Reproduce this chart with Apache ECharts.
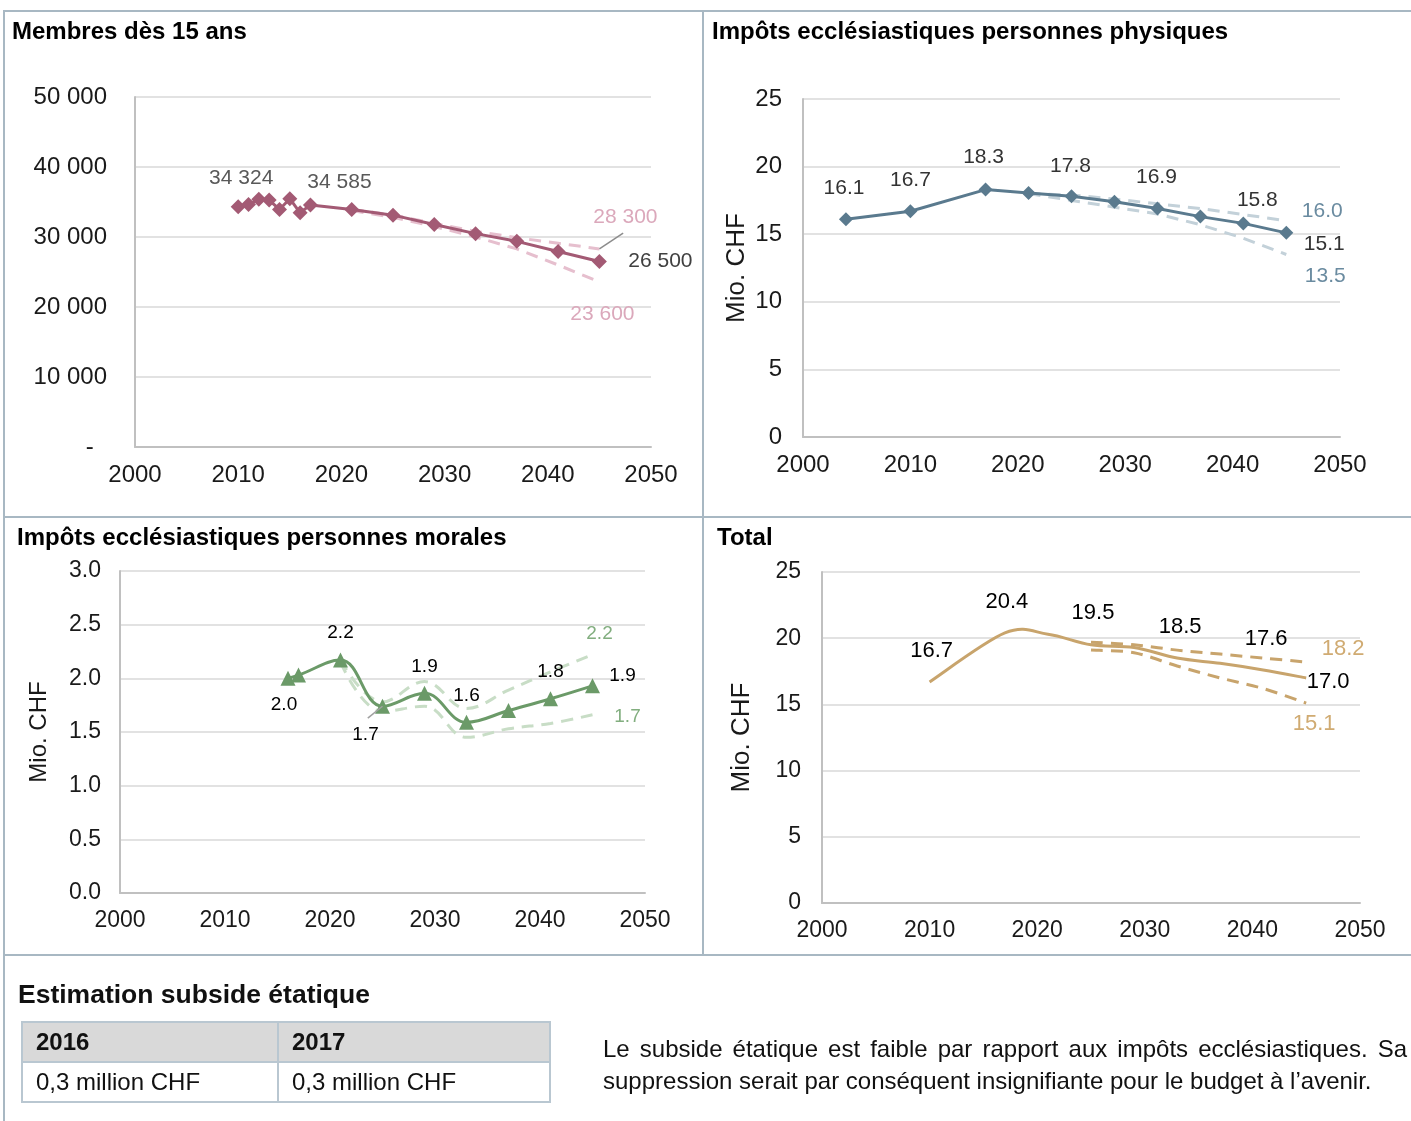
<!DOCTYPE html>
<html><head><meta charset="utf-8">
<script src="https://cdn.jsdelivr.net/npm/echarts@6/dist/echarts.min.js"></script>
<style>
body{margin:0;background:#fff;font-family:"Liberation Sans",Arial,sans-serif;color:#111;}
#wrap{position:relative;width:1411px;height:1121px;overflow:hidden;background:#fff;}
#chart{position:absolute;left:0;top:0;width:1411px;height:1121px;}
.b{position:absolute;background:#a8b8c3;}
#sub{position:absolute;left:18px;top:978px;font-size:26.5px;font-weight:bold;line-height:32px;}
table{position:absolute;left:21px;top:1021px;width:530px;border-collapse:collapse;font-size:24px;}
td{border:2px solid #b9c7d1;height:38px;padding:0 0 0 13px;}
tr.h td{background:#d9d9d9;font-weight:bold;}
#p1,#p2{position:absolute;left:603px;width:804px;font-size:24px;line-height:32px;white-space:nowrap;}
#p1{top:1033px;text-align:justify;text-align-last:justify;}
#p2{top:1065px;}
</style></head>
<body><div id="wrap">
<div id="chart"></div>
<div class="b" style="left:3px;top:10px;width:1408px;height:2px"></div>
<div class="b" style="left:3px;top:10px;width:2px;height:1111px"></div>
<div class="b" style="left:702px;top:10px;width:2px;height:945px"></div>
<div class="b" style="left:3px;top:516px;width:1408px;height:2px"></div>
<div class="b" style="left:3px;top:954px;width:1408px;height:2px"></div>
<div id="sub">Estimation subside étatique</div>
<table>
<tr class="h"><td style="width:241px">2016</td><td>2017</td></tr>
<tr><td>0,3 million CHF</td><td>0,3 million CHF</td></tr>
</table>
<div id="p1">Le subside étatique est faible par rapport aux impôts ecclésiastiques. Sa</div>
<div id="p2">suppression serait par conséquent insignifiante pour le budget à l’avenir.</div>
</div>
<script>
// ---------- DATA ----------
const titles = ['Membres dès 15 ans','Impôts ecclésiastiques personnes physiques','Impôts ecclésiastiques personnes morales','Total'];
const xTicks = [2000, 2010, 2020, 2030, 2040, 2050];

// Membres dès 15 ans
const membresYears = [2010,2011,2012,2013,2014,2015,2016,2017,2021,2025,2029,2033,2037,2041,2045];
const membres      = [34324,34660,35380,35280,33940,35470,33460,34585,33940,33120,31780,30480,29380,27940,26500];
const membresProjYears = [2021,2025,2029,2033,2037,2041,2045];
const membresHaut  = [33940,33150,31950,30800,29900,29100,28300];
const membresBas   = [33800,32800,31500,30000,28300,26000,23600];

// Impôts personnes physiques (Mio. CHF)
const physYears = [2004,2010,2017,2021,2025,2029,2033,2037,2041,2045];
const phys      = [16.1,16.7,18.3,18.05,17.8,17.4,16.9,16.3,15.8,15.1];
const physProjYears = [2021,2025,2029,2033,2037,2041,2045];
const physHaut  = [18.0,17.9,17.6,17.25,16.9,16.45,16.0];
const physBas   = [18.0,17.5,17.0,16.5,15.7,14.7,13.5];

// Impôts personnes morales (Mio. CHF)
const morYears = [2016,2017,2021,2025,2029,2033,2037,2041,2045];
const mor      = [2.0,2.03,2.17,1.74,1.86,1.59,1.70,1.81,1.93];
const morProjYears = [2021,2025,2029,2033,2037,2041,2045];
const morHaut  = [2.17,1.78,1.97,1.72,1.89,2.06,2.22];
const morBas   = [2.15,1.69,1.74,1.45,1.53,1.58,1.66];

// Total (Mio. CHF)
const totYears = [2010,2017,2021,2025,2029,2033,2037,2041,2045];
const tot      = [16.7,20.4,20.3,19.5,19.3,18.5,18.1,17.6,17.0];
const totProjYears = [2025,2029,2033,2037,2041,2045];
const totHaut  = [19.7,19.5,19.1,18.8,18.5,18.2];
const totBas   = [19.1,18.9,17.9,17.0,16.2,15.1];

// ---------- STYLE ----------
const FONT = '"Liberation Sans", Arial, sans-serif';
const C1 = '#a35a74', C1d = '#e6bfce', C1l = '#dba8bb';
const C2 = '#5a7a8e', C2d = '#c3d1d9', C2l = '#6a8ba0';
const C3 = '#6b9a68', C3d = '#c8ddc6', C3l = '#82ae7f';
const C4 = '#c8a46c', C4l = '#d0ab72';
const CLEAR = 'rgba(0,0,0,0)';

// label offsets (pixel displacement from point), keyed by year
const lab1 = {2010:[3,-29], 2017:[29,-23], 2045:[61,0]};
const lab2 = {2004:[-2,-31], 2010:[0,-31], 2017:[-2,-32], 2025:[-1,-30], 2033:[-1,-31], 2041:[14,-23], 2045:[38,11]};
const lab3 = {2016:[-4,26], 2021:[0,-27], 2025:[-17,29], 2029:[0,-27], 2033:[0,-27], 2041:[0,-27], 2045:[30,-10]};
const lab4 = {2010:[2,-31], 2017:[2,-31], 2025:[2,-32], 2033:[3,-31], 2041:[3,-31], 2045:[22,4]};

function thousands(v){ const s = Math.round(v).toString(); return s.length>3 ? s.slice(0,-3)+' '+s.slice(-3) : s; }
function pairs(xs, ys){ return xs.map((x,i)=>[x, ys[i]]); }
function build(xs, ys, offs, style){
  return xs.map((x,i)=>{
    const it = {value:[x, ys[i]]};
    if (offs && offs[x]) it.label = Object.assign({show:true, position:'inside', offset:offs[x]}, style);
    return it;
  });
}
function endOnly(xs, ys, off, style){
  const o = {}; o[xs[xs.length-1]] = off;
  return build(xs, ys, o, style);
}
function xAxis(g, fs){
  return {gridIndex:g, type:'value', min:2000, max:2050, interval:10,
    axisLine:{show:true, onZero:false, lineStyle:{color:'#c0c0c0', width:2}},
    axisTick:{show:false}, splitLine:{show:false},
    axisLabel:{fontSize:fs, color:'#1a1a1a', fontFamily:FONT, margin:16, formatter:v=>String(v)}};
}
function yAxis(g, min, max, iv, extra){
  return Object.assign({gridIndex:g, type:'value', min:min, max:max, interval:iv,
    axisLine:{show:true, lineStyle:{color:'#c0c0c0', width:2}},
    axisTick:{show:false},
    splitLine:{show:true, lineStyle:{color:'#d9d9d9', width:1.5}},
    nameTextStyle:{fontSize:26, color:'#1a1a1a', fontFamily:FONT}}, extra||{});
}
const dash = (c)=>({color:c, width:3, type:[12,8]});
const ylab = (fs, margin, fmt)=>({fontSize:fs, color:'#1a1a1a', fontFamily:FONT, margin:margin, formatter:fmt});

const lblGray1 = {color:'#595959', fontSize:21, fontFamily:FONT, formatter:p=>thousands(p.value[1])};
const lblNum = (c, fs)=>({color:c, fontSize:fs, fontFamily:FONT, formatter:p=>p.value[1].toFixed(1)});

const mainData1 = build(membresYears, membres, lab1, lblGray1);
mainData1[mainData1.length-1].label.color = '#404040';

const hidden = ()=>({symbol:'circle', symbolSize:1, showSymbol:true, itemStyle:{color:CLEAR, borderColor:CLEAR}});

// Office-style smoothed curve (cardinal spline, tension 1/6) drawn through the axis scales
function smoothCurve(xs, ys, gi, stroke, dashArr, z){
  return {type:'custom', xAxisIndex:gi, yAxisIndex:gi, z:z, silent:true,
    data:pairs(xs, ys),
    renderItem:(params, api)=>{
      if (params.dataIndex !== 0) return null;
      const n = xs.length;
      const P = k=>{ const j = Math.max(0, Math.min(n-1, k)); return api.coord([xs[j], ys[j]]); };
      let d = 'M' + P(0)[0] + ' ' + P(0)[1];
      for (let i=0;i<n-1;i++){
        const p0=P(i-1), p1=P(i), p2=P(i+1), p3=P(i+2);
        const c1=[p1[0]+(p2[0]-p0[0])/6, p1[1]+(p2[1]-p0[1])/6];
        const c2=[p2[0]-(p3[0]-p1[0])/6, p2[1]-(p3[1]-p1[1])/6];
        d += ' C'+c1[0]+' '+c1[1]+' '+c2[0]+' '+c2[1]+' '+p2[0]+' '+p2[1];
      }
      return {type:'path', shape:{pathData:d},
        style:{stroke:stroke, lineWidth:3, fill:null, lineDash:dashArr||null, lineCap:'butt', lineJoin:'round'}};
    }};
}

const option = {
  animation:false,
  title: [
    {text:titles[0], left:7, top:15},
    {text:titles[1], left:707, top:15},
    {text:titles[2], left:12, top:521},
    {text:titles[3], left:712, top:521}
  ].map(t=>Object.assign(t,{textStyle:{fontSize:24, fontWeight:'bold', color:'#000', fontFamily:FONT}})),
  grid: [
    {left:135, top:97, width:516, height:350},
    {left:803, top:99, width:537, height:338},
    {left:120, top:571, width:525, height:322},
    {left:822, top:572, width:538, height:331}
  ],
  xAxis: [xAxis(0,24), xAxis(1,24), xAxis(2,23), xAxis(3,23)],
  yAxis: [
    yAxis(0, 0, 50000, 10000, {axisLabel:ylab(24, 28, v=> v===0 ? '-  ' : thousands(v))}),
    yAxis(1, 0, 25, 5, {name:'Mio. CHF', nameLocation:'middle', nameGap:53, axisLabel:ylab(24, 21)}),
    yAxis(2, 0, 3, 0.5, {name:'Mio. CHF', nameLocation:'middle', nameGap:69,
      nameTextStyle:{fontSize:24, color:'#1a1a1a', fontFamily:FONT}, axisLabel:ylab(23, 19, v=>v.toFixed(1))}),
    yAxis(3, 0, 25, 5, {name:'Mio. CHF', nameLocation:'middle', nameGap:67, axisLabel:ylab(23, 21)})
  ],
  series: [
    // Chart 1
    Object.assign({type:'line', xAxisIndex:0, yAxisIndex:0, lineStyle:dash(C1d), z:1,
      data:endOnly(membresProjYears, membresHaut, [26,-32], {color:C1l, fontSize:21, fontFamily:FONT, formatter:p=>thousands(p.value[1])}),
      markLine:{silent:true, symbol:'none', label:{show:false}, lineStyle:{color:'#8c8c8c', width:1.5, type:'solid'},
        data:[[{coord:[membresProjYears[6], membresHaut[6]]},{coord:[membresProjYears[6]+2.3, membresHaut[6]+2270]}]]}}, hidden()),
    Object.assign({type:'line', xAxisIndex:0, yAxisIndex:0, lineStyle:dash(C1d), z:1,
      data:endOnly(membresProjYears, membresBas, [3,32], {color:C1l, fontSize:21, fontFamily:FONT, formatter:p=>thousands(p.value[1])})}, hidden()),
    {type:'line', xAxisIndex:0, yAxisIndex:0, symbol:'diamond', symbolSize:15, z:3,
      lineStyle:{color:C1, width:3}, itemStyle:{color:C1}, data:mainData1},
    // Chart 2
    Object.assign({type:'line', xAxisIndex:1, yAxisIndex:1, lineStyle:dash(C2d), z:1,
      data:endOnly(physProjYears, physHaut, [36,-9], lblNum(C2l, 21))}, hidden()),
    Object.assign({type:'line', xAxisIndex:1, yAxisIndex:1, lineStyle:dash(C2d), z:1,
      data:endOnly(physProjYears, physBas, [39,22], lblNum(C2l, 21))}, hidden()),
    {type:'line', xAxisIndex:1, yAxisIndex:1, symbol:'diamond', symbolSize:14, z:3,
      lineStyle:{color:C2, width:3}, itemStyle:{color:C2}, data:build(physYears, phys, lab2, lblNum('#333333', 21))},
    // Chart 3
    Object.assign({type:'line', xAxisIndex:2, yAxisIndex:2, smooth:0.4, lineStyle:dash(C3d), z:1,
      data:endOnly(morProjYears, morHaut, [7,-21], lblNum(C3l, 19))}, hidden()),
    Object.assign({type:'line', xAxisIndex:2, yAxisIndex:2, smooth:0.4, lineStyle:dash(C3d), z:1,
      data:endOnly(morProjYears, morBas, [35,2], lblNum(C3l, 19))}, hidden()),
    {type:'line', xAxisIndex:2, yAxisIndex:2, smooth:0.4, symbol:'triangle', symbolSize:15, z:3,
      lineStyle:{color:C3, width:3}, itemStyle:{color:C3}, data:build(morYears, mor, lab3, lblNum('#000', 19)),
      markLine:{silent:true, symbol:'none', label:{show:false}, lineStyle:{color:'#a0a0a0', width:1.5, type:'solid'},
        data:[[{coord:[morYears[3], mor[3]]},{coord:[morYears[3]-1.4, mor[3]-0.11]}]]}},
    // Chart 4 : curves
    smoothCurve(totProjYears, totHaut, 3, C4, [12,8], 1),
    smoothCurve(totProjYears, totBas, 3, C4, [12,8], 1),
    smoothCurve(totYears, tot, 3, C4, null, 3),
    // Chart 4 : labels (invisible line carriers)
    Object.assign({type:'line', xAxisIndex:3, yAxisIndex:3, lineStyle:{opacity:0}, z:4,
      data:endOnly(totProjYears, totHaut, [37,-13], lblNum(C4l, 22))}, hidden()),
    Object.assign({type:'line', xAxisIndex:3, yAxisIndex:3, lineStyle:{opacity:0}, z:4,
      data:endOnly(totProjYears, totBas, [8,21], lblNum(C4l, 22))}, hidden()),
    Object.assign({type:'line', xAxisIndex:3, yAxisIndex:3, lineStyle:{opacity:0}, z:4,
      data:build(totYears, tot, lab4, lblNum('#000', 22))}, hidden())
  ]
};
const chart = echarts.init(document.getElementById('chart'), null, {renderer:'canvas'});
chart.setOption(option);
</script>
</body></html>
